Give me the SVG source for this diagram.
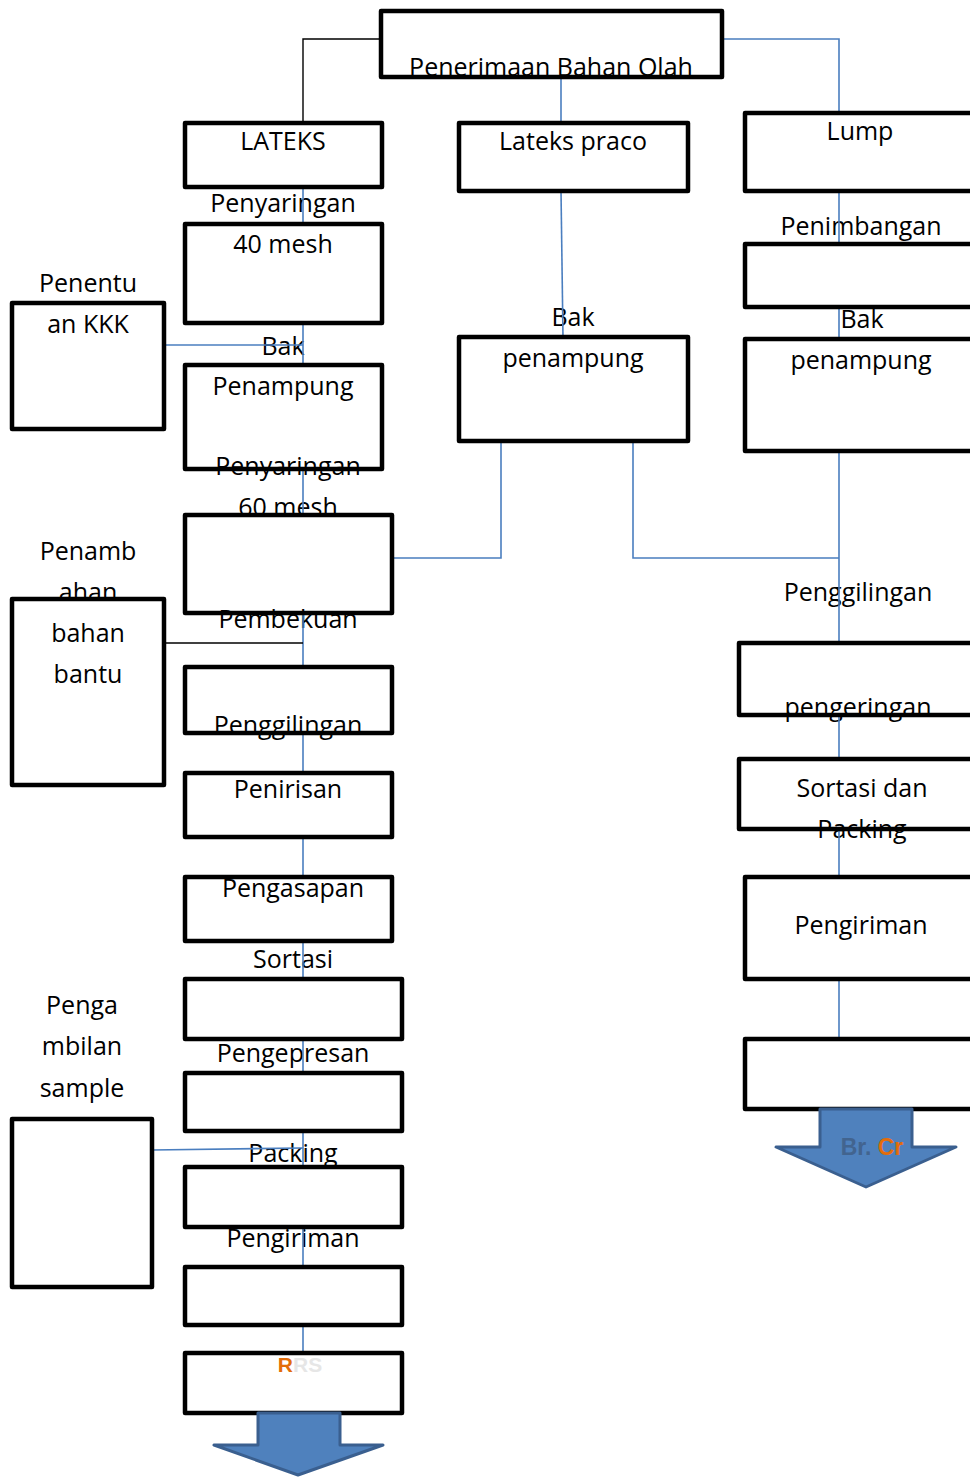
<svg xmlns="http://www.w3.org/2000/svg" width="970" height="1477" viewBox="0 0 970 1477">
<style>
.t{font-family:"Open Sans","Noto Sans",sans-serif;font-size:25px;fill:#000;text-anchor:middle}
.b{fill:none;stroke:#000;stroke-width:4.5;stroke-linejoin:round}
.c{fill:none;stroke:#4a7ebf;stroke-width:1.6}
.k{fill:none;stroke:#000;stroke-width:1.4}
.ar{fill:#4f81bd;stroke:#3a5f8f;stroke-width:3;stroke-linejoin:round}
</style>
<rect width="970" height="1477" fill="#fff"/>
<g id="labels">
<text class="t" x="551" y="76">Penerimaan Bahan Olah</text>
<text class="t" x="283" y="150">LATEKS</text>
<text class="t" x="573" y="150">Lateks praco</text>
<text class="t" x="860" y="140">Lump</text>
<text class="t" x="283" y="212">Penyaringan</text>
<text class="t" x="283" y="253">40 mesh</text>
<text class="t" x="88" y="292">Penentu</text>
<text class="t" x="88" y="333">an KKK</text>
<text class="t" x="861" y="235">Penimbangan</text>
<text class="t" x="573" y="326">Bak</text>
<text class="t" x="573" y="367">penampung</text>
<text class="t" x="862" y="328">Bak</text>
<text class="t" x="861" y="369">penampung</text>
<text class="t" x="283" y="355">Bak</text>
<text class="t" x="283" y="395">Penampung</text>
<text class="t" x="288" y="475">Penyaringan</text>
<text class="t" x="288" y="516">60 mesh</text>
<text class="t" x="88" y="560">Penamb</text>
<text class="t" x="88" y="601">ahan</text>
<text class="t" x="88" y="642">bahan</text>
<text class="t" x="88" y="683">bantu</text>
<text class="t" x="288" y="628">Pembekuan</text>
<text class="t" x="288" y="734">Penggilingan</text>
<text class="t" x="288" y="798">Penirisan</text>
<text class="t" x="293" y="897">Pengasapan</text>
<text class="t" x="293" y="968">Sortasi</text>
<text class="t" x="293" y="1062">Pengepresan</text>
<text class="t" x="293" y="1162">Packing</text>
<text class="t" x="293" y="1247">Pengiriman</text>
<text class="t" x="82" y="1014">Penga</text>
<text class="t" x="82" y="1055">mbilan</text>
<text class="t" x="82" y="1097">sample</text>
<text class="t" x="858" y="601">Penggilingan</text>
<text class="t" x="858" y="716">pengeringan</text>
<text class="t" x="862" y="797">Sortasi dan</text>
<text class="t" x="862" y="838">Packing</text>
<text class="t" x="861" y="934">Pengiriman</text>
</g>
<g id="connectors">
<polyline class="k" points="381,39 303,39 303,123"/>
<line class="c" x1="561" y1="77" x2="561" y2="123"/>
<polyline class="c" points="722,39 839,39 839,113"/>
<line class="c" x1="303" y1="187" x2="303" y2="224"/>
<line class="c" x1="303" y1="323" x2="303" y2="365"/>
<line class="c" x1="164" y1="345" x2="303" y2="345"/>
<line class="c" x1="303" y1="469" x2="303" y2="515"/>
<line class="c" x1="561" y1="191" x2="563" y2="337"/>
<line class="c" x1="839" y1="191" x2="839" y2="244"/>
<line class="c" x1="839" y1="307" x2="839" y2="339"/>
<polyline class="c" points="501,441 501,558 392,558"/>
<polyline class="c" points="633,441 633,558 839,558"/>
<line class="c" x1="839" y1="451" x2="839" y2="643"/>
<line class="c" x1="303" y1="613" x2="303" y2="667"/>
<line class="k" x1="164" y1="643" x2="303" y2="643"/>
<line class="c" x1="303" y1="733" x2="303" y2="773"/>
<line class="c" x1="303" y1="837" x2="303" y2="877"/>
<line class="c" x1="303" y1="941" x2="303" y2="979"/>
<line class="c" x1="303" y1="1039" x2="303" y2="1073"/>
<line class="c" x1="303" y1="1131" x2="303" y2="1167"/>
<line class="c" x1="152" y1="1150" x2="303" y2="1148"/>
<line class="c" x1="303" y1="1227" x2="303" y2="1267"/>
<line class="c" x1="303" y1="1325" x2="303" y2="1353"/>
<line class="c" x1="839" y1="715" x2="839" y2="759"/>
<line class="c" x1="839" y1="829" x2="839" y2="877"/>
<line class="c" x1="839" y1="979" x2="839" y2="1039"/>
</g>
<g id="n1"><rect class="b" x="381" y="11" width="341" height="66"/></g>
<g id="n2"><rect class="b" x="185" y="123" width="197" height="64"/></g>
<g id="n3"><rect class="b" x="459" y="123" width="229" height="68"/></g>
<g id="n4"><rect class="b" x="745" y="113" width="240" height="78"/></g>
<g id="n5"><rect class="b" x="185" y="224" width="197" height="99"/></g>
<g id="n6"><rect class="b" x="12" y="303" width="152" height="126"/></g>
<g id="n7"><rect class="b" x="185" y="365" width="197" height="104"/></g>
<g id="n8"><rect class="b" x="459" y="337" width="229" height="104"/></g>
<g id="n9"><rect class="b" x="745" y="244" width="240" height="63"/></g>
<g id="n10"><rect class="b" x="745" y="339" width="240" height="112"/></g>
<g id="n11"><rect class="b" x="185" y="515" width="207" height="98"/></g>
<g id="n12"><rect class="b" x="12" y="599" width="152" height="186"/></g>
<g id="n13"><rect class="b" x="185" y="667" width="207" height="66"/></g>
<g id="n14"><rect class="b" x="185" y="773" width="207" height="64"/></g>
<g id="n15"><rect class="b" x="185" y="877" width="207" height="64"/></g>
<g id="n16"><rect class="b" x="185" y="979" width="217" height="60"/></g>
<g id="n17"><rect class="b" x="185" y="1073" width="217" height="58"/></g>
<g id="n18"><rect class="b" x="185" y="1167" width="217" height="60"/></g>
<g id="n19"><rect class="b" x="185" y="1267" width="217" height="58"/></g>
<g id="n20"><rect class="b" x="185" y="1353" width="217" height="60"/>
<text x="300" y="1372" style="font-family:'Liberation Sans',sans-serif;font-size:21px;font-weight:bold" text-anchor="middle"><tspan fill="#e36c0a">R</tspan><tspan fill="#e6e6e6">RS</tspan></text></g>
<g id="n21"><rect class="b" x="12" y="1119" width="140" height="168"/></g>
<g id="n22"><rect class="b" x="739" y="643" width="246" height="72"/></g>
<g id="n23"><rect class="b" x="739" y="759" width="246" height="70"/></g>
<g id="n24"><rect class="b" x="745" y="877" width="240" height="102"/></g>
<g id="n25"><rect class="b" x="745" y="1039" width="240" height="70"/></g>
<g id="arrow-left"><polygon class="ar" points="258,1413 340,1413 340,1445 383,1445 298,1475 214,1445 258,1445"/></g>
<g id="arrow-right"><polygon class="ar" points="820,1109 912,1109 912,1147 956,1147 866,1187 776,1147 820,1147"/>
<text x="872" y="1155" style="font-family:'Liberation Sans',sans-serif;font-size:23px;font-weight:bold" text-anchor="middle"><tspan fill="#42648f">Br. </tspan><tspan fill="#e36c0a">Cr</tspan></text></g>
</svg>
